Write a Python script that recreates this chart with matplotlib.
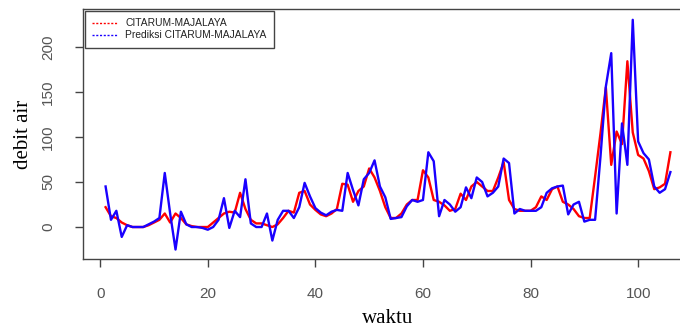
import numpy as np
import matplotlib
matplotlib.use('Agg')
import matplotlib.pyplot as plt
from matplotlib.lines import Line2D

waktu = np.arange(1, 107)

aktual = [22, 12, 10, 5, 2, 0, 0, 0, 2, 5,
          8, 15, 5, 15, 10, 3, 1, 0, 0, 0,
          5, 10, 15, 17, 16, 38, 20, 8, 4, 4,
          2, 0, 3, 10, 18, 16, 38, 40, 25, 19,
          14, 12, 15, 20, 48, 47, 28, 40, 45, 65,
          55, 40, 22, 10, 10, 15, 25, 30, 30, 63,
          55, 30, 28, 24, 18, 20, 37, 30, 45, 50,
          45, 40, 40, 55, 72, 30, 20, 18, 18, 18,
          22, 34, 30, 42, 45, 28, 25, 20, 12, 10,
          10, 56, 104, 155, 69, 106, 92, 184, 105, 80,
          76, 62, 42, 44, 48, 83]

prediksi = [45, 8, 18, -11, 2, 0, 0, 0, 3, 6,
            10, 60, 15, -25, 17, 3, 0, 0, -1, -3,
            0, 8, 32, -1, 18, 11, 53, 4, 0, 0,
            15, -15, 8, 18, 18, 10, 22, 49, 34, 21,
            16, 13, 17, 19, 18, 60, 41, 24, 53, 60,
            74, 45, 33, 9, 10, 11, 23, 30, 28, 30,
            83, 73, 12, 30, 25, 17, 22, 44, 32, 55,
            50, 34, 38, 45, 76, 71, 15, 20, 18, 18,
            18, 22, 38, 43, 45, 46, 14, 25, 28, 6,
            8, 8, 78, 156, 193, 15, 115, 69, 230, 95,
            82, 75, 45, 38, 42, 61]

fig = plt.figure(figsize=(6.8, 3.28), dpi=100)
ax = fig.add_axes([83 / 680, 69 / 328, 610 / 680, 250 / 328])

ax.plot(waktu, aktual, color='#ff0000', lw=1.7)
ax.plot(waktu, prediksi, color='#1a00ff', lw=1.7)

ax.set_xlim(-3.2, 110.2)
ax.set_ylim(-35.5, 242)
ax.set_xticks([0, 20, 40, 60, 80, 100])
ax.set_yticks([0, 50, 100, 150, 200])

for s in ax.spines.values():
    s.set_color('#444444')
    s.set_linewidth(1.0)
ax.tick_params(direction='out', length=6, width=1, color='#444444',
               labelcolor='#555555', labelsize=11)
ax.tick_params(axis='x', pad=14)
ax.tick_params(axis='y', pad=14)
for lab in ax.get_xticklabels() + ax.get_yticklabels():
    lab.set_family('Liberation Sans')
for lab in ax.get_yticklabels():
    lab.set_rotation(90)
    lab.set_va('center')

ax.set_xlabel('waktu', family='Liberation Serif', fontsize=15, labelpad=6)
ax.set_ylabel('debit air', family='Liberation Serif', fontsize=15, labelpad=6)

handles = [Line2D([], [], color='#ff0000', lw=1, ls=(0, (1.5, 1.2))),
           Line2D([], [], color='#1a00ff', lw=1, ls=(0, (1.5, 1.2)))]
leg = ax.legend(handles, ['CITARUM-MAJALAYA', 'Prediksi CITARUM-MAJALAYA'],
                loc='upper left', borderaxespad=0.15, fancybox=False,
                framealpha=1, edgecolor='#444444', handlelength=2.4,
                prop={'family': 'Liberation Sans', 'size': 7.4},
                labelspacing=0.2, borderpad=0.75, handletextpad=0.8)
leg.get_frame().set_linewidth(1.0)
for t in leg.get_texts():
    t.set_color('#222222')

fig.savefig('out.png', dpi=100)
